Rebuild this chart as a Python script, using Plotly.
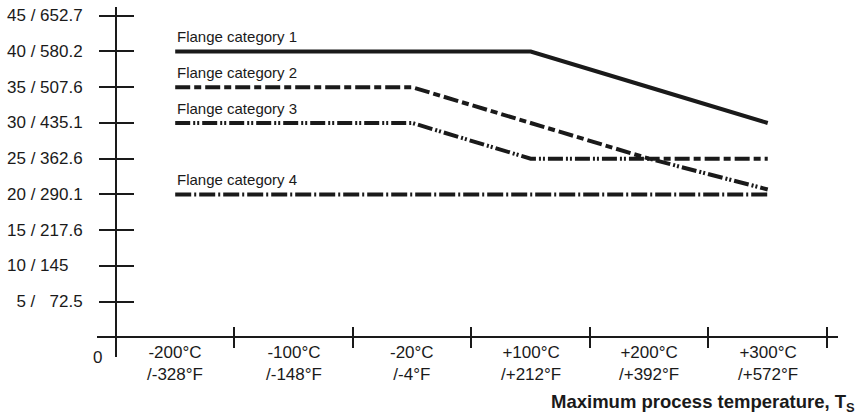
import plotly.graph_objects as go

# ---- data ----
temps_c = ["-200°C", "-100°C", "-20°C", "+100°C", "+200°C", "+300°C"]
temps_f = ["/-328°F", "/-148°F", "/-4°F", "/+212°F", "/+392°F", "/+572°F"]
series_names = ["Flange category 1", "Flange category 2", "Flange category 3", "Flange category 4"]
cat1 = [40, 40, 40, 40, 35, 30]
cat2 = [35, 35, 35, 30, 25, 25]
cat3 = [30, 30, 30, 25, 25, 20.7]
cat4 = [20, 20, 20, 20, 20, 20]
y_tick_vals = [5, 10, 15, 20, 25, 30, 35, 40, 45]
y_tick_text = ["5 / 72.5", "10 / 145", "15 / 217.6", "20 / 290.1", "25 / 362.6",
               "30 / 435.1", "35 / 507.6", "40 / 580.2", "45 / 652.7"]
x_title = "Maximum process temperature, T<sub>S</sub>"

# ---- styles ----
FONT = "Liberation Sans, Arial, sans-serif"
INK = "#1a1a1a"
NB = "\u00a0"
dashes = ["solid", "15px,4px,7px,4px", "15px,3px,2px,2px,2px,3px", "16px,3px,2px,3px"]


def pad_label(t):
    # spacing around the slash, as in the reference
    a, b = t.split(" / ")
    if len(a) == 1:
        return NB + NB + a + " /" + NB * 3 + b
    return a + " /" + NB + b


xs = list(range(len(temps_c)))
X_RANGE = [-0.66, len(xs) - 0.5 + 0.093]
Y_RANGE = [-2.73, 46.22]
boundaries = [i + 0.5 for i in xs]
py0 = (0 - Y_RANGE[0]) / (Y_RANGE[1] - Y_RANGE[0])
px_axis = (-0.5 - X_RANGE[0]) / (X_RANGE[1] - X_RANGE[0])

fig = go.Figure()
for name, vals, dash in zip(series_names, [cat1, cat2, cat3, cat4], dashes):
    fig.add_trace(go.Scatter(x=xs, y=vals, mode="lines", name=name,
                             line=dict(color=INK, width=4, dash=dash), showlegend=False,
                             hoverinfo="skip"))
# empty trace so the overlay axes (inside half of crossing ticks) are drawn
fig.add_trace(go.Scatter(x=[], y=[], xaxis="x2", yaxis="y2", showlegend=False))

annotations = []
for name, vals in zip(series_names, [cat1, cat2, cat3, cat4]):
    annotations.append(dict(x=xs[0], y=vals[0], xref="x", yref="y", text=name, showarrow=False,
                            xanchor="left", yanchor="bottom", yshift=4,
                            font=dict(family=FONT, size=15, color=INK)))
for v, t in zip(y_tick_vals, y_tick_text):
    annotations.append(dict(x=(5 - 97) / 741, y=v, xref="paper", yref="y", text=pad_label(t),
                            showarrow=False, xanchor="left", yanchor="middle",
                            font=dict(family=FONT, size=17, color=INK)))
annotations.append(dict(x=0, y=0, xref="paper", yref="y", text="0", showarrow=False,
                        xanchor="center", yanchor="top", yshift=-9,
                        font=dict(family=FONT, size=17, color=INK)))
for x, c, f in zip(xs, temps_c, temps_f):
    annotations.append(dict(x=x, y=0, xref="x", yref="y", text=c + "<br>" + f, showarrow=False,
                            xanchor="center", yanchor="top", yshift=-4,
                            font=dict(family=FONT, size=17, color=INK)))
annotations.append(dict(x=(857 - 97) / 741, y=0, xref="paper", yref="paper", text="<b>" + x_title + "</b>",
                        showarrow=False, xanchor="right", yanchor="top", yshift=-32,
                        font=dict(family=FONT, size=18.5, color=INK)))

fig.update_layout(
    width=861, height=417,
    margin=dict(l=97, r=23, t=7, b=60),
    paper_bgcolor="white", plot_bgcolor="white",
    xaxis=dict(range=X_RANGE, showgrid=False, zeroline=False, showline=True, linecolor=INK, linewidth=2,
               anchor="free", position=py0, tickmode="array", tickvals=boundaries,
               ticks="outside", ticklen=10, tickwidth=2, tickcolor=INK, showticklabels=False),
    xaxis2=dict(range=X_RANGE, overlaying="x", showgrid=False, zeroline=False, showline=False,
                anchor="free", position=py0, tickmode="array", tickvals=boundaries,
                ticks="inside", ticklen=10, tickwidth=2, tickcolor=INK, showticklabels=False),
    yaxis=dict(range=Y_RANGE, showgrid=False, zeroline=False, showline=True, linecolor=INK, linewidth=2,
               anchor="free", position=px_axis, tickmode="array", tickvals=y_tick_vals,
               ticks="outside", ticklen=16, tickwidth=2, tickcolor=INK, showticklabels=False),
    yaxis2=dict(range=Y_RANGE, overlaying="y", showgrid=False, zeroline=False, showline=False,
                anchor="free", position=px_axis, tickmode="array", tickvals=y_tick_vals,
                ticks="inside", ticklen=17, tickwidth=2, tickcolor=INK, showticklabels=False),
    annotations=annotations,
)

fig.write_html("out.html", config={"displayModeBar": False},
               post_script="document.body.style.margin='0px';")
